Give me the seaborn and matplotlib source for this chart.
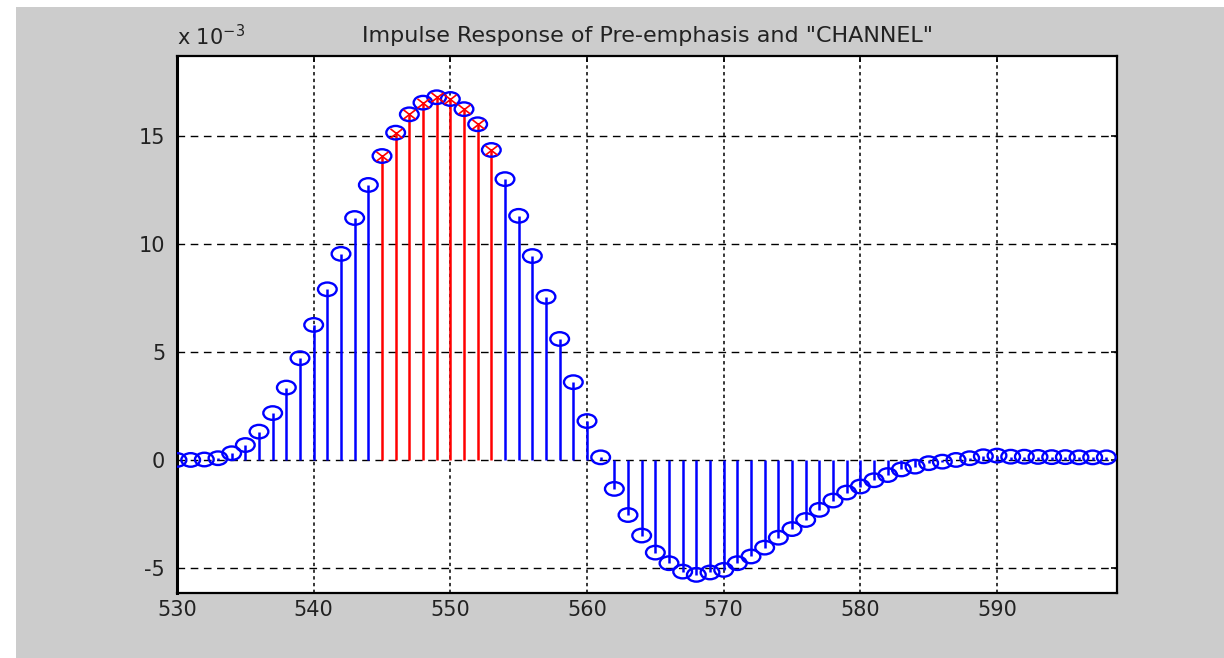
import numpy as np
import pandas as pd
import matplotlib
matplotlib.use("Agg")
import matplotlib.pyplot as plt
from matplotlib.markers import MarkerStyle
from matplotlib.transforms import Affine2D
from matplotlib.patches import Rectangle
import seaborn as sns

# ---- data (values in units of 1e-3) ----
n_start = 530
values = [0.0, 0.0, 0.02, 0.08, 0.31, 0.69, 1.31, 2.17, 3.35, 4.71,
          6.25, 7.9, 9.54, 11.2, 12.73, 14.07, 15.15, 16.0, 16.54, 16.79,
          16.71, 16.24, 15.54, 14.35, 13.0, 11.3, 9.44, 7.55, 5.6, 3.6,
          1.8, 0.12, -1.34, -2.55, -3.5, -4.29, -4.78, -5.17, -5.32, -5.21,
          -5.09, -4.78, -4.47, -4.06, -3.6, -3.2, -2.78, -2.31, -1.88, -1.51,
          -1.23, -0.94, -0.7, -0.44, -0.31, -0.15, -0.08, 0.0, 0.08, 0.17,
          0.2, 0.15, 0.15, 0.14, 0.13, 0.13, 0.12, 0.12, 0.12]
samples = list(range(n_start, n_start + len(values)))
red_start, red_end = 545, 553
x_ticks = [530, 540, 550, 560, 570, 580, 590]
y_ticks = [-5, 0, 5, 10, 15]
title = 'Impulse Response of Pre-emphasis and "CHANNEL"'

df = pd.DataFrame({"n": samples, "h": values})
is_red = (df.n >= red_start) & (df.n <= red_end)
df_red = df[is_red]
df_blue = df[~is_red]

sns.set_theme(style="white")
plt.rcParams["font.family"] = ["DejaVu Sans"]

W, H = 1224, 658
fig = plt.figure(figsize=(W / 100, H / 100), dpi=100, facecolor="white")
fig.patches.append(Rectangle((16 / W, 0), 1 - 16 / W, 1 - 7 / H,
                             transform=fig.transFigure, facecolor="#cccccc",
                             edgecolor="none", zorder=-10))
ax = fig.add_axes([177 / W, 1 - 593 / H, (1117 - 177) / W, (593 - 56) / H])
ax.set_facecolor("white")

# stems
ax.vlines(df_blue.n, 0, df_blue.h, colors="#0000ff", linewidth=1.8, zorder=2)
ax.vlines(df_red.n, 0, df_red.h, colors="#ff0000", linewidth=1.8, zorder=3)

# markers (stretched like the reference)
circ = MarkerStyle("o", transform=Affine2D().scale(1.38, 1.0))
cross = MarkerStyle("x", transform=Affine2D().scale(1.3, 1.0))
sns.scatterplot(data=df, x="n", y="h", ax=ax, marker=circ, s=95,
                facecolors="none", edgecolors="#0000ff", color="#0000ff",
                linewidth=1.7, zorder=4, legend=False)
sns.scatterplot(data=df_red, x="n", y="h", ax=ax, marker=cross, s=45,
                color="#ff0000", linewidth=1.2, zorder=5, legend=False)

ax.set_xlim(530, 598.78)
ax.set_ylim(-6.16, 18.7)
ax.set_xticks(x_ticks)
ax.set_yticks(y_ticks)
ax.set_xticklabels([str(t) for t in x_ticks])
ax.set_yticklabels([str(t) for t in y_ticks])
ax.set_xlabel("")
ax.set_ylabel("")

ax.xaxis.grid(True, color="black", linestyle=(0, (2.2, 2.2)), linewidth=1.1)
ax.yaxis.grid(True, color="black", linestyle=(0, (5.5, 4.0)), linewidth=1.0)
ax.set_axisbelow(True)

ax.tick_params(axis="both", direction="in", length=4, width=1.2,
               top=True, right=True, labelsize=15, colors="black",
               labelcolor="#222222")
ax.tick_params(axis="x", pad=5)
ax.tick_params(axis="y", pad=8.5)
for name, sp in ax.spines.items():
    sp.set_visible(True)
    sp.set_color("black")
    sp.set_linewidth(1.6)
ax.spines["left"].set_linewidth(2.2)

ax.set_title(title, fontsize=16, color="#222222", pad=10)
ax.text(0.0, 1.013, r"x 10$^{-3}$", transform=ax.transAxes, fontsize=15,
        ha="left", va="bottom", color="#222222")

fig.savefig("out.png", dpi=100, facecolor=fig.get_facecolor())
